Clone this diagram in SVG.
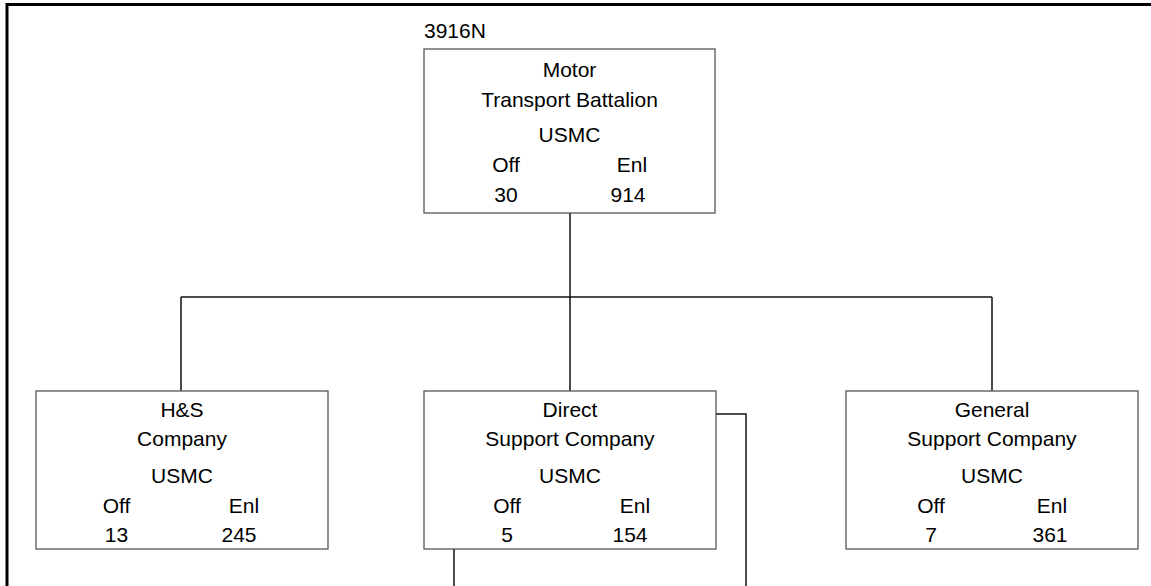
<svg xmlns="http://www.w3.org/2000/svg" width="1151" height="586" viewBox="0 0 1151 586">
<style>
.box{fill:#fff;stroke:#555;stroke-width:1.3}
.ln{fill:none;stroke:#111;stroke-width:1.5}
.frame{fill:none;stroke:#000;stroke-width:3}
text{font-family:"Liberation Sans",Arial,sans-serif;font-size:21px;fill:#000;text-anchor:middle}
.lbl{text-anchor:start}
</style>
<rect width="1151" height="586" fill="#fff"/>
<path class="frame" d="M7,586 V4.5 H1151"/>
<g id="connectors">
<path class="ln" d="M570,213 V297 M181,297 H992 M181,297 V391 M570,297 V391 M992,297 V391"/>
<path class="ln" d="M716,414 H746 V586"/>
<path class="ln" d="M454,549 V586"/>
</g>
<g id="n-battalion">
<text class="lbl" x="424" y="38">3916N</text>
<rect class="box" x="424" y="49" width="291" height="164"/>
<text x="569.5" y="77">Motor</text>
<text x="569.5" y="107">Transport Battalion</text>
<text x="569.5" y="141.5">USMC</text>
<text x="506" y="172">Off</text>
<text x="632" y="172">Enl</text>
<text x="506" y="202">30</text>
<text x="628" y="202">914</text>
</g>
<g id="n-hs">
<rect class="box" x="36" y="391" width="292" height="158"/>
<text x="182" y="417">H&amp;S</text>
<text x="182" y="446">Company</text>
<text x="182" y="483">USMC</text>
<text x="116.5" y="513">Off</text>
<text x="244" y="513">Enl</text>
<text x="116.5" y="542">13</text>
<text x="239" y="542">245</text>
</g>
<g id="n-direct">
<rect class="box" x="424" y="391" width="292" height="158"/>
<text x="570" y="417">Direct</text>
<text x="570" y="446">Support Company</text>
<text x="570" y="483">USMC</text>
<text x="507" y="513">Off</text>
<text x="635" y="513">Enl</text>
<text x="507" y="542">5</text>
<text x="630" y="542">154</text>
</g>
<g id="n-general">
<rect class="box" x="846" y="391" width="292" height="158"/>
<text x="992" y="417">General</text>
<text x="992" y="446">Support Company</text>
<text x="992" y="483">USMC</text>
<text x="931" y="513">Off</text>
<text x="1052" y="513">Enl</text>
<text x="931" y="542">7</text>
<text x="1050" y="542">361</text>
</g>
</svg>
